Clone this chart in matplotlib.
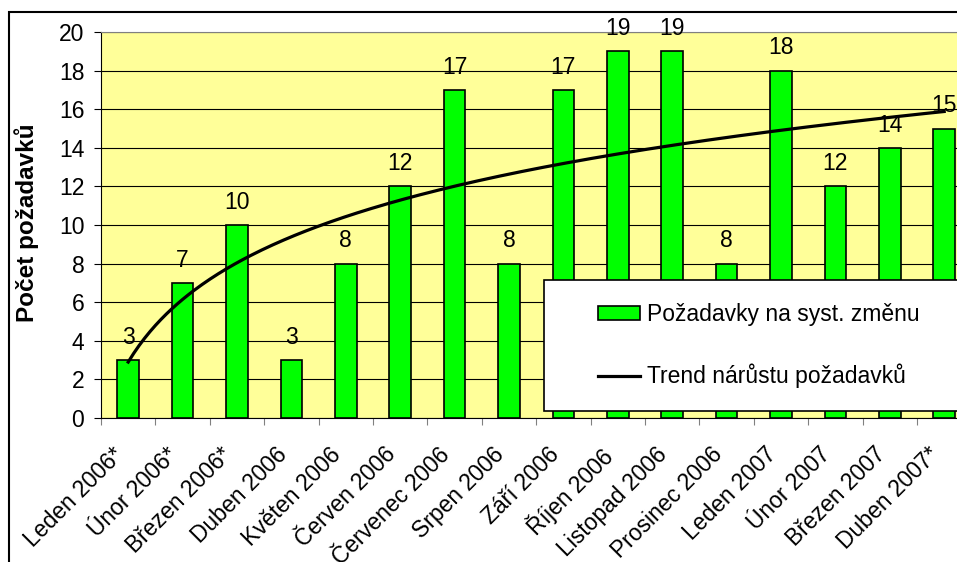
import numpy as np
import matplotlib
matplotlib.use("Agg")
import matplotlib.pyplot as plt
from matplotlib.patches import Rectangle
from matplotlib.lines import Line2D

months = ["Leden 2006*", "Únor 2006*", "Březen 2006*", "Duben 2006", "Květen 2006",
          "Červen 2006", "Červenec 2006", "Srpen 2006", "Září 2006", "Říjen 2006",
          "Listopad 2006", "Prosinec 2006", "Leden 2007", "Únor 2007", "Březen 2007",
          "Duben 2007*"]
requests = [3, 7, 10, 3, 8, 12, 17, 8, 17, 19, 19, 8, 18, 12, 14, 15]
y_ticks = [0, 2, 4, 6, 8, 10, 12, 14, 16, 18, 20]

plt.rcParams['font.family'] = ['Liberation Sans', 'DejaVu Sans']
FS = 16.5

W, H = 957, 562
fig = plt.figure(figsize=(W / 100, H / 100), dpi=100)
ax = fig.add_axes([101 / W, 1 - 418 / H, 870.4 / W, 386 / H])
ax.set_facecolor('#FFFF99')

x = np.arange(len(requests))
bars = ax.bar(x, requests, width=0.4, color='#00FF00', edgecolor='black', linewidth=1.2, zorder=3)
ax.bar_label(bars, padding=8, fontsize=FS)

# logarithmic trend line (as in the spreadsheet)
a, b = np.polyfit(np.log(x + 1), requests, 1)
xs = np.linspace(1, len(requests), 300)
ax.plot(xs - 1, a * np.log(xs) + b, color='black', lw=2.3, zorder=4)

ax.set_xlim(-0.5, len(requests) - 0.5)
ax.set_ylim(0, 20)
ax.set_yticks(y_ticks)
ax.yaxis.grid(True, color='black', lw=0.8)
ax.set_axisbelow(True)
ax.tick_params(axis='y', labelsize=FS, length=5, direction='out', pad=7, color='black')

ax.set_xticks(np.arange(-0.5, len(requests)), labels=[])
ax.set_xticks(x, labels=months, minor=True)
ax.tick_params(axis='x', which='major', length=5, direction='out', color='#808080')
ax.tick_params(axis='x', which='minor', length=0, pad=18, labelsize=FS)
for lab in ax.get_xticklabels(minor=True):
    lab.set_rotation(45)
    lab.set_ha('right')
    lab.set_va('top')

for s in ['left', 'bottom']:
    ax.spines[s].set_color('black')
ax.spines['top'].set_color('#808080')
ax.spines['right'].set_visible(False)

fig.text(27 / W, 1 - 223 / H, 'Počet požadavků', rotation=90, ha='center', va='center',
         fontsize=17.5, fontweight='bold')

# legend box
fig.add_artist(Rectangle((544 / W, 1 - 411 / H), 0.6, 131 / H, transform=fig.transFigure,
                         facecolor='white', edgecolor='black', lw=1.2, zorder=5))
handles = [Rectangle((0, 0), 1, 1, facecolor='#00FF00', edgecolor='black', lw=1.2),
           Line2D([], [], color='black', lw=2.3)]
fig.legend(handles, ['Požadavky na syst. změnu', 'Trend nárůstu požadavků'],
           loc='upper left', bbox_to_anchor=(598 / W, 1 - 303 / H), frameon=False,
           fontsize=FS, handlelength=1.85, handleheight=0.6, handletextpad=0.3,
           borderpad=0, borderaxespad=0, labelspacing=1.65).set_zorder(6)

# outer chart border
fig.add_artist(Rectangle((9 / W, -0.2), 1.2, 1.2 - 12 / H, transform=fig.transFigure,
                         facecolor='none', edgecolor='black', lw=1.5, zorder=7))

fig.savefig('out.png', dpi=100)
